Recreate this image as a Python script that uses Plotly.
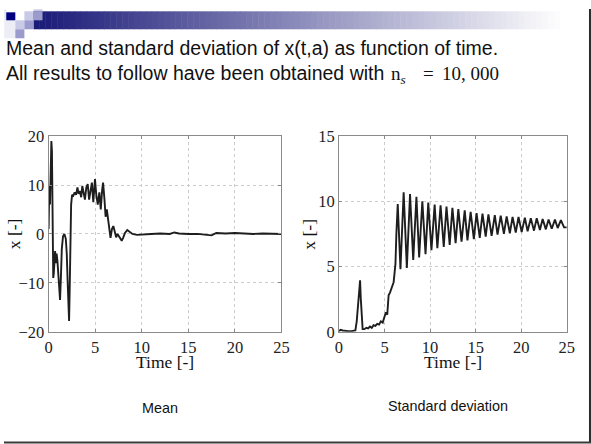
import plotly.graph_objects as go

# ---- data: mean of x(t,a) ----
mean_t = [0, 0.08, 0.15, 0.22, 0.3, 0.36, 0.42, 0.5, 0.56, 0.63, 0.7, 0.78, 0.86, 0.95,
          1.05, 1.15, 1.23, 1.32, 1.42, 1.55, 1.7, 1.85, 1.95, 2.05, 2.12, 2.2, 2.26,
          2.33, 2.42, 2.52, 2.65, 2.8, 2.95, 3.1, 3.22, 3.35, 3.5, 3.62, 3.75, 3.9,
          4.05, 4.2, 4.35, 4.5, 4.65, 4.8, 4.98, 5.12, 5.28, 5.45, 5.6, 5.75, 5.85,
          6.0, 6.12, 6.25, 6.38, 6.5, 6.65, 6.8, 6.95, 7.1, 7.25, 7.4, 7.55, 7.7,
          7.85, 8.0, 8.2, 8.45, 8.7, 9.0, 9.5, 10, 11, 12, 13, 13.5, 14, 15, 16, 17,
          17.5, 18, 19, 20, 21, 22, 23, 24, 25]
mean_x = [1, 10, 6, 14, 19, 17, 4, -9, -8, -4, -3.5, -6, -4, -5.5,
          -9, -12, -13.5, -9, -3, -0.5, 0, -1, -4, -10, -15, -17.8, -12,
          -2, 6, 8, 7.8, 8.5, 8, 9.5, 8.2, 8.8, 7.5, 9.8, 8, 7,
          9.5, 10.2, 7, 8.5, 10.5, 6.5, 11.2, 8, 6, 8.5, 5, 9, 10.5,
          7, 3.5, 5, 3, 1, -0.8, 1, 1.6, 0.5, -0.7, 0, -0.5, -1.2,
          -1.4, -0.8, 0.2, 0.8, 0.4, 0, -0.2, -0.1, 0, 0.1, 0, 0.3, 0.1, 0, 0, -0.2,
          -0.3, 0.2, 0.1, 0.2, 0.1, 0, 0.1, 0, 0]

# ---- data: standard deviation of x(t,a) ----
std_t = [0, 0.2, 0.4, 0.7, 1.0, 1.4, 1.8, 1.95, 2.05, 2.15, 2.25, 2.32, 2.4, 2.5,
         2.6, 2.8, 3.0, 3.2, 3.4, 3.6, 3.8, 4.0, 4.2, 4.4, 4.6, 4.8, 5.0, 5.15,
         5.3, 5.45, 5.6, 5.75, 5.9, 6.0, 6.1, 6.2, 6.3, 6.38,
         6.45, 6.75, 7.1, 7.45, 7.8, 8.15, 8.5, 8.8, 9.15, 9.5, 9.8, 10.15,
         10.5, 10.8, 11.15, 11.5, 11.8, 12.15, 12.45, 12.8, 13.1, 13.45, 13.8,
         14.1, 14.45, 14.8, 15.1, 15.45, 15.75, 16.1, 16.4, 16.75, 17.1, 17.4,
         17.75, 18.1, 18.4, 18.75, 19.05, 19.4, 19.7, 20.05, 20.4, 20.7, 21.05,
         21.4, 21.7, 22.05, 22.35, 22.7, 23.0, 23.35, 23.7, 24.0, 24.35, 24.7, 25.0]
std_x = [0.05, 0.15, 0.1, 0.05, 0.05, 0.05, 0.1, 0.8, 1.7, 2.0, 3.0, 3.95, 2.5, 1.0,
         0.2, 0.2, 0.3, 0.25, 0.4, 0.3, 0.5, 0.45, 0.6, 0.55, 0.8, 0.7, 1.1, 1.5,
         1.3, 2.8, 3.0, 3.3, 3.6, 3.8, 4.5, 5.2, 7.5, 9.0,
         9.8, 4.8, 10.7, 4.9, 10.55, 5.5, 10.35, 5.7, 10.0, 5.95, 9.9, 6.25,
         9.75, 6.4, 9.7, 6.5, 9.6, 6.65, 9.5, 6.8, 9.4, 6.9, 9.3,
         7.0, 9.2, 7.1, 9.1, 7.2, 9.05, 7.3, 9.0, 7.35, 8.95, 7.45,
         8.9, 7.5, 8.85, 7.55, 8.8, 7.6, 8.8, 7.65, 8.75, 7.7, 8.7,
         7.75, 8.7, 7.8, 8.65, 7.85, 8.6, 7.9, 8.6, 7.95, 8.55, 8.0, 8.0]

x_ticks = [0, 5, 10, 15, 20, 25]
mean_ticks = [-20, -10, 0, 10, 20]
std_ticks = [0, 5, 10, 15]

# Layout is specified in slide pixels (591 x 444) and converted to the
# figure's own coordinates: the page keeps an 8px body margin and the
# capture is scaled down by roughly SX, SY.
SX, SY, M = 591 / 608, 0.96, 8
W, H = 600, 456
SERIF = "Liberation Serif, Times New Roman, serif"
SANS = "Liberation Sans, Arial, sans-serif"


def px(x):
    return (x / SX - M) / W


def py(y):
    return 1 - (y / SY - M) / H


def fs(size):
    return round(size / SX, 1)


fig = go.Figure()
fig.add_trace(go.Scatter(x=mean_t, y=mean_x, mode="lines", xaxis="x", yaxis="y",
                         line=dict(color="#1e1e1e", width=1.9), showlegend=False))
fig.add_trace(go.Scatter(x=std_t, y=std_x, mode="lines", xaxis="x2", yaxis="y2",
                         line=dict(color="#1e1e1e", width=1.9), showlegend=False))

axis_common = dict(
    showline=True, mirror="ticks", linecolor="#8a8a8a", linewidth=1,
    ticks="inside", ticklen=3, tickcolor="#8a8a8a",
    showgrid=True, gridcolor="#cccccc", griddash="dot", gridwidth=1,
    zeroline=False, tickfont=dict(family=SERIF, size=fs(16), color="#222"),
)

fig.update_layout(
    width=W, height=H,
    margin=dict(l=0, r=0, t=0, b=0),
    paper_bgcolor="white", plot_bgcolor="white",
    xaxis=dict(domain=[px(52), px(283)], range=[0, 25], tickvals=x_ticks,
               anchor="y", **axis_common),
    yaxis=dict(domain=[py(331), py(135)], range=[-20, 20], tickvals=mean_ticks,
               anchor="x", **axis_common),
    xaxis2=dict(domain=[px(340), px(566)], range=[0, 25], tickvals=x_ticks,
                anchor="y2", **axis_common),
    yaxis2=dict(domain=[py(331), py(135)], range=[0, 15], tickvals=std_ticks,
                anchor="x2", **axis_common),
)

shapes = []

# header gradient bar, navy fading to white
x0, x1, n = 37, 565, 90
c0 = (26, 26, 120)
for i in range(n):
    f = i / (n - 1)
    col = tuple(int(round(c0[k] + (255 - c0[k]) * f)) for k in range(3))
    xa = x0 + (x1 - x0) * i / n
    xb = x0 + (x1 - x0) * (i + 1) / n + 0.5
    shapes.append(dict(type="rect", xref="paper", yref="paper",
                       x0=px(xa), x1=px(xb), y0=py(28), y1=py(10),
                       line=dict(width=0), fillcolor="rgb(%d,%d,%d)" % col, layer="below"))

# small squares of the header logo
squares = [
    (8, 10, 8, 19, "#e6e6f2"), (8, 19, 19, 37, "#ededf6"),
    (10, 19, 11, 19, "#00007f"),
    (37, 46, 8, 10, "#c8c8e4"),
    (28, 37, 10, 19, "#c9c9e8"), (37, 46, 10, 19, "#9b9bcd"),
    (19, 28, 19, 28, "#c9c9e8"), (28, 37, 19, 28, "#9b9bcd"),
    (19, 28, 28, 37, "#9b9bcd"),
]
for xa, xb, ya, yb, col in squares:
    shapes.append(dict(type="rect", xref="paper", yref="paper",
                       x0=px(xa), x1=px(xb), y0=py(yb), y1=py(ya),
                       line=dict(width=0), fillcolor=col, layer="below"))

# slide frame: right and bottom edges
shapes.append(dict(type="line", xref="paper", yref="paper",
                   x0=px(589), x1=px(589), y0=py(442.5), y1=1,
                   line=dict(color="#2a2a2a", width=2)))
shapes.append(dict(type="line", xref="paper", yref="paper",
                   x0=0, x1=px(590), y0=py(442), y1=py(442),
                   line=dict(color="#3a3a3a", width=2)))
fig.update_layout(shapes=shapes)

ann = []


def text(x, y, s, size, family=SANS, xanchor="left", angle=0, color="#111"):
    ann.append(dict(x=px(x), y=py(y), xref="paper", yref="paper", text=s,
                    showarrow=False, xanchor=xanchor, yanchor="middle",
                    textangle=angle, font=dict(family=family, size=fs(size), color=color)))


text(8, 47, "Mean and standard deviation of x(t,a) as function of time.", 19)
text(8, 72, "All results to follow have been obtained with", 19)
text(390, 74, "n<sub><i>s</i></sub>", 18.5, family=SERIF)
text(421, 72, "=", 18.5, family=SERIF)
text(440, 72, "10, 000", 18.5, family=SERIF)

text(167, 361, "Time [-]", 17, family=SERIF, xanchor="center")
text(453, 361, "Time [-]", 17, family=SERIF, xanchor="center")
text(18, 233, "x [-]", 17, family=SERIF, xanchor="center", angle=-90)
text(310, 233, "x [-]", 17, family=SERIF, xanchor="center", angle=-90)

text(163, 407, "Mean", 14, xanchor="center")
text(448, 405, "Standard deviation", 14, xanchor="center")

fig.update_layout(annotations=ann)
fig.write_html("out.html")
